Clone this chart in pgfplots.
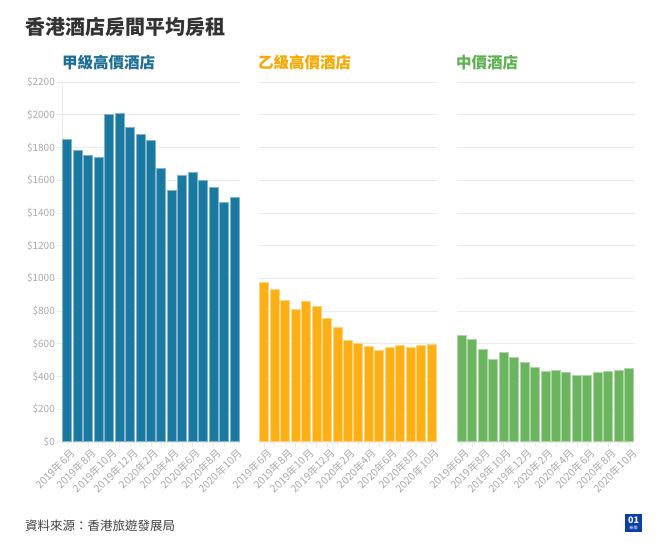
\documentclass[border=0pt]{standalone}
\usepackage{pgfplots}
\pgfplotsset{compat=1.18}
\usepackage{fontspec}
\setmainfont{Noto Sans CJK TC}
\definecolor{cblue}{HTML}{1A79A0}
\definecolor{tblue}{HTML}{1C6E96}
\definecolor{corange}{HTML}{FDB016}
\definecolor{torange}{HTML}{F7A800}
\definecolor{cgreen}{HTML}{6AB55E}
\definecolor{tgreen}{HTML}{5EB050}
\definecolor{gridc}{HTML}{EBEBEB}
\definecolor{tickc}{HTML}{AAAAAA}
\definecolor{logoc}{HTML}{0B3FA8}

\pgfplotstableread{
x y
0 1850
1 1783
2 1751
3 1736
4 1999
5 2009
6 1921
7 1879
8 1842
9 1673
10 1535
11 1627
12 1647
13 1596
14 1555
15 1462
16 1494
}\tableA
\pgfplotstableread{
x y
0 976
1 929
2 862
3 807
4 860
5 829
6 752
7 697
8 618
9 600
10 583
11 557
12 579
13 591
14 575
15 587
16 596
}\tableB
\pgfplotstableread{
x y
0 649
1 624
2 567
3 502
4 545
5 514
6 486
7 457
8 431
9 437
10 424
11 406
12 408
13 422
14 431
15 435
16 449
}\tableC

\pgfplotsset{
  panel/.style={
    scale only axis,
    width=178bp, height=360bp,
    anchor=south west,
    xmin=-0.5, xmax=16.5,
    ymin=0, ymax=2200,
    ytick={0,200,...,2200},
    xtick={0,...,16},
    xticklabels={2019年6月,,2019年8月,,2019年10月,,2019年12月,,2020年2月,,2020年4月,,2020年6月,,2020年8月,,2020年10月},
    ymajorgrids,
    grid style={draw=gridc, line width=0.8bp},
    axis lines=left,
    axis line style={draw=gridc, line width=0.8bp, -},
    tick align=outside,
    major tick length=5bp,
    tick style={draw=gridc, line width=0.8bp},
    x tick label style={rotate=45, anchor=north east, font=\fontsize{10.5bp}{12bp}\selectfont, text=tickc, inner sep=1bp, yshift=-1bp, xshift=2bp},
    y tick label style={font=\fontsize{10bp}{12bp}\selectfont, text=tickc, inner sep=1bp, xshift=-1bp},
    /pgf/number format/assume math mode=true,
    /pgf/number format/1000 sep={},
    yticklabel={\$\pgfmathprintnumber{\tick}},
    ybar, bar width=9bp,
    clip=false,
  },
  hidey/.style={
    y axis line style={draw=none},
    ytick style={draw=none},
    yticklabels={},
  },
}

\begin{document}
\begin{tikzpicture}
\useasboundingbox (0,0) rectangle (666bp,553bp);
\fill[white] (0,0) rectangle (666bp,553bp);

\begin{axis}[panel, at={(62bp,111bp)}]
\addplot[fill=cblue, draw=cblue!55!white, line width=1bp] table[x=x,y=y]{\tableA};
\end{axis}

\begin{axis}[panel, hidey, at={(259bp,111bp)}]
\addplot[fill=corange, draw=corange!55!white, line width=1bp] table[x=x,y=y]{\tableB};
\end{axis}

\begin{axis}[panel, hidey, at={(456.5bp,111bp)}]
\addplot[fill=cgreen, draw=cgreen!55!white, line width=1bp] table[x=x,y=y]{\tableC};
\end{axis}

\node[anchor=west, inner sep=0pt, text=black!80, font=\fontsize{20bp}{22bp}\selectfont\bfseries] at (25bp,526bp) {香港酒店房間平均房租};
\node[anchor=west, inner sep=0pt, text=tblue, font=\fontsize{15.5bp}{18bp}\selectfont\bfseries] at (62bp,490bp) {甲級高價酒店};
\node[anchor=west, inner sep=0pt, text=torange, font=\fontsize{15.5bp}{18bp}\selectfont\bfseries] at (258bp,490bp) {乙級高價酒店};
\node[anchor=west, inner sep=0pt, text=tgreen, font=\fontsize{15.5bp}{18bp}\selectfont\bfseries] at (456bp,490bp) {中價酒店};
\node[anchor=west, inner sep=0pt, text=black!75, font=\fontsize{12.5bp}{14bp}\selectfont] at (25bp,27bp) {資料來源：香港旅遊發展局};

\fill[logoc] (625bp,21bp) rectangle (642bp,39bp);
\node[text=white, inner sep=0pt, font=\fontsize{9bp}{9bp}\selectfont\bfseries] at (633.5bp,33bp) {01};
\node[text=white, inner sep=0pt, font=\fontsize{4bp}{4bp}\selectfont] at (633.5bp,25.5bp) {新聞};
\end{tikzpicture}
\end{document}
